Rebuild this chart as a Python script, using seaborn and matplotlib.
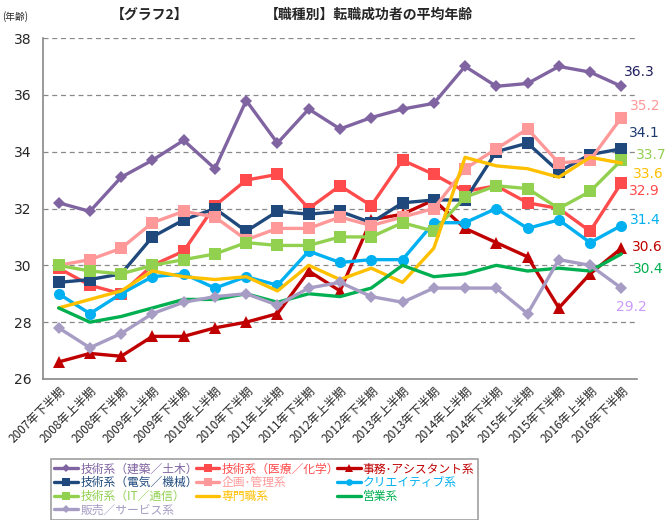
import matplotlib
matplotlib.use("Agg")
import matplotlib.pyplot as plt
import seaborn as sns

# categories (x axis)
periods = ["2007年下半期", "2008年上半期", "2008年下半期", "2009年上半期", "2009年下半期",
           "2010年上半期", "2010年下半期", "2011年上半期", "2011年下半期", "2012年上半期",
           "2012年下半期", "2013年上半期", "2013年下半期", "2014年上半期", "2014年下半期",
           "2015年上半期", "2015年下半期", "2016年上半期", "2016年下半期"]

# average age per job type
kenchiku = [32.2, 31.9, 33.1, 33.7, 34.4, 33.4, 35.8, 34.3, 35.5, 34.8, 35.2, 35.5, 35.7, 37.0, 36.3, 36.4, 37.0, 36.8, 36.3]
iryou = [29.9, 29.3, 29.0, 30.0, 30.5, 32.1, 33.0, 33.2, 32.0, 32.8, 32.1, 33.7, 33.2, 32.6, 32.8, 32.2, 32.0, 31.2, 32.9]
jimu = [26.6, 26.9, 26.8, 27.5, 27.5, 27.8, 28.0, 28.3, 29.8, 29.1, 31.6, 31.8, 32.3, 31.3, 30.8, 30.3, 28.5, 29.7, 30.6]
denki = [29.4, 29.5, 29.7, 31.0, 31.6, 32.0, 31.2, 31.9, 31.8, 31.9, 31.5, 32.2, 32.3, 32.3, 34.0, 34.3, 33.3, 33.9, 34.1]
kikaku = [30.0, 30.2, 30.6, 31.5, 31.9, 31.7, 30.9, 31.3, 31.3, 31.7, 31.4, 31.7, 32.0, 33.4, 34.1, 34.8, 33.6, 33.7, 35.2]
creative = [29.0, 28.3, 29.0, 29.6, 29.7, 29.2, 29.6, 29.3, 30.5, 30.1, 30.2, 30.2, 31.5, 31.5, 32.0, 31.3, 31.6, 30.8, 31.4]
it_tsushin = [30.0, 29.8, 29.7, 30.0, 30.2, 30.4, 30.8, 30.7, 30.7, 31.0, 31.0, 31.5, 31.2, 32.4, 32.8, 32.7, 32.0, 32.6, 33.7]
senmon = [28.5, 28.8, 29.1, 29.8, 29.6, 29.5, 29.6, 29.1, 30.0, 29.5, 29.9, 29.4, 30.6, 33.8, 33.5, 33.4, 33.1, 33.8, 33.6]
eigyou = [28.5, 28.0, 28.2, 28.5, 28.8, 28.8, 29.0, 28.7, 29.0, 28.9, 29.2, 30.0, 29.6, 29.7, 30.0, 29.8, 29.9, 29.8, 30.4]
hanbai = [27.8, 27.1, 27.6, 28.3, 28.7, 28.9, 29.0, 28.6, 29.2, 29.4, 28.9, 28.7, 29.2, 29.2, 29.2, 28.3, 30.2, 30.0, 29.2]

names = ["技術系（建築／土木）", "技術系（医療／化学）", "事務･アシスタント系",
         "技術系（電気／機械）", "企画･管理系", "クリエイティブ系",
         "技術系（IT／通信）", "専門職系", "営業系", "販売／サービス系"]
series = [kenchiku, iryou, jimu, denki, kikaku, creative, it_tsushin, senmon, eigyou, hanbai]
colors = ["#8064A2", "#FF4B4B", "#C00000", "#1F497D", "#FF9999", "#00B0F0",
          "#92D050", "#FFC000", "#00B050", "#A69CC4"]
markers = ["D", "s", "^", "s", "s", "o", "s", None, None, "D"]
msizes = [6.5, 8.5, 9, 8.5, 8.5, 8, 8.5, 0, 0, 6.5]

# end-of-line value labels
end_colors = ["#1F1F5F", "#FF4B4B", "#C00000", "#1F3A70", "#FF9999", "#00B0F0",
              "#92D050", "#FFC000", "#00B050", "#CC99FF"]
end_offsets = [(18, 14.5), (23, -8), (26, 1), (23, 16), (24, 12), (24, 6),
               (30, 5), (27, -11), (27, -15), (10, -19)]

sns.set_theme(style="white")
plt.rcParams["font.family"] = ["Noto Sans CJK JP", "DejaVu Sans"]

fig = plt.figure(figsize=(6.69, 5.2), dpi=100)
ax = fig.add_axes([43 / 669, 1 - 379 / 520, 594 / 669, 341 / 520])

x = list(range(len(periods)))
for vals, name, c, m, ms in zip(series, names, colors, markers, msizes):
    sns.lineplot(x=x, y=vals, ax=ax, color=c, linewidth=2.4, label=name,
                 marker=m, markersize=ms, markeredgewidth=0)

for vals, c, (dx, dy) in zip(series, end_colors, end_offsets):
    ax.annotate(f"{vals[-1]:.1f}", xy=(x[-1], vals[-1]), xytext=(dx, dy),
                textcoords="offset pixels", ha="center", va="center",
                fontsize=10, color=c, family="DejaVu Sans", annotation_clip=False)

ax.set_xlim(-0.5, len(periods) - 0.5)
ax.set_ylim(26, 38)
ax.set_yticks(range(26, 39, 2))
ax.set_xticks(x)
ax.set_xticklabels(periods, rotation=45, ha="right", rotation_mode="anchor", fontsize=8.5)
ax.tick_params(axis="y", labelsize=10, length=0, pad=8)
ax.tick_params(axis="x", length=0, pad=4)
for t in ax.get_yticklabels():
    t.set_family("DejaVu Sans")
for yv in range(28, 39, 2):
    ax.axhline(yv, color="#888888", linewidth=0.9, linestyle=(0, (4, 3)), zorder=0)
for s in ["top", "right"]:
    ax.spines[s].set_visible(False)
for s in ["left", "bottom"]:
    ax.spines[s].set_color("#888888")
    ax.spines[s].set_linewidth(1.2)
ax.set_xlabel("")
ax.set_ylabel("")

# legend: row-wise order like the original
handles, labels = ax.get_legend_handles_labels()
ax.get_legend().remove()
order = [0, 3, 6, 9, 1, 4, 7, 2, 5, 8]
leg = fig.legend([handles[i] for i in order], [labels[i] for i in order],
                 loc="center", bbox_to_anchor=(45 / 669, 3 / 520, 439 / 669, 55 / 520),
                 mode="expand", ncol=3, fontsize=8.5, frameon=True, fancybox=False,
                 edgecolor="#888888", borderpad=0.3, labelspacing=0.05,
                 handlelength=2.0, handletextpad=0.2, markerscale=0.6,
                 labelcolor="linecolor")
leg.get_frame().set_linewidth(1.2)

fig.text(2 / 669, 1 - 17 / 520, "(年齢)", fontsize=7, va="center", ha="left")
fig.text(150 / 669, 1 - 15 / 520, "【グラフ2】", fontsize=10, fontweight="bold", va="center", ha="center")
fig.text(369 / 669, 1 - 15 / 520, "【職種別】転職成功者の平均年齢", fontsize=10, fontweight="bold", va="center", ha="center")

fig.savefig("out.png", dpi=100)
